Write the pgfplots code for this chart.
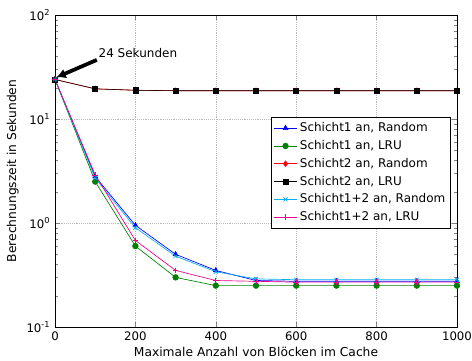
\documentclass[border=0pt]{standalone}
\usepackage{pgfplots}
\pgfplotsset{compat=1.18}
\usetikzlibrary{arrows.meta}
\usepackage{fontspec}
\setmainfont{DejaVu Sans}
\begin{document}
\begin{tikzpicture}
\begin{axis}[
  scale only axis, width=301.5pt, height=234pt,
  ymode=log, xmin=0, xmax=1000, ymin=0.1, ymax=100,
  xtick={0,200,400,600,800,1000},
  ytick={0.1,1,10,100},
  yticklabels={10\textsuperscript{-1},10\textsuperscript{0},10\textsuperscript{1},10\textsuperscript{2}},
  /pgf/number format/assume math mode=true,
  xticklabel style={/pgf/number format/1000 sep={}},
  tick label style={font=\fontsize{8.8}{10}\selectfont},
  label style={font=\fontsize{9.2}{10}\selectfont},
  xlabel={Maximale Anzahl von Blöcken im Cache},
  ylabel={Berechnungszeit in Sekunden},
  xlabel style={yshift=2pt}, ylabel style={yshift=-1pt},
  tick align=inside, major tick length=4pt, minor tick length=2pt,
  grid=major, grid style={densely dotted, gray!55},
  axis line style={black},
  legend style={at={(0.985,0.673)}, anchor=north east, font=\fontsize{9}{10}\selectfont, draw=black, inner sep=2pt, row sep=1pt, cells={anchor=west}},
  legend cell align=left,
  every axis plot/.append style={line width=0.5pt, mark size=2.1pt},
]
\addplot[blue, mark=triangle*, mark options={fill=blue}] coordinates {(0,24) (100,2.8) (200,0.95) (300,0.5) (400,0.35) (500,0.28) (600,0.275) (700,0.275) (800,0.275) (900,0.275) (1000,0.275)};
\addlegendentry{Schicht1 an, Random}
\addplot[green!50!black, mark=*, mark options={fill=green!50!black}] coordinates {(0,24) (100,2.5) (200,0.6) (300,0.3) (400,0.25) (500,0.25) (600,0.25) (700,0.25) (800,0.25) (900,0.25) (1000,0.25)};
\addlegendentry{Schicht1 an, LRU}
\addplot[red, mark=diamond*, mark options={fill=red}] coordinates {(0,24) (100,19.5) (200,18.9) (300,18.7) (400,18.7) (500,18.7) (600,18.7) (700,18.7) (800,18.7) (900,18.7) (1000,18.7)};
\addlegendentry{Schicht2 an, Random}
\addplot[black, mark=square*, mark options={fill=black}, mark size=1.9pt, line width=0.4pt] coordinates {(0,24) (100,19.5) (200,18.9) (300,18.7) (400,18.7) (500,18.7) (600,18.7) (700,18.7) (800,18.7) (900,18.7) (1000,18.7)};
\addlegendentry{Schicht2 an, LRU}
\addplot[cyan, mark=x] coordinates {(0,24) (100,2.7) (200,0.9) (300,0.48) (400,0.34) (500,0.29) (600,0.285) (700,0.285) (800,0.285) (900,0.285) (1000,0.285)};
\addlegendentry{Schicht1+2 an, Random}
\addplot[magenta, mark=+] coordinates {(0,24) (100,2.9) (200,0.68) (300,0.35) (400,0.28) (500,0.275) (600,0.27) (700,0.27) (800,0.27) (900,0.27) (1000,0.27)};
\addlegendentry{Schicht1+2 an, LRU}
\draw[-{Latex[length=7pt,width=7.5pt]}, line width=2.8pt, black, shorten >=0.5pt] (axis cs:104,37) -- (axis cs:2,25);
\node[anchor=west, font=\fontsize{9}{10}\selectfont, inner sep=0pt] at (axis cs:108,43) {24 Sekunden};
\coordinate (SW) at (rel axis cs:0,0);
\coordinate (NE) at (rel axis cs:1,1);
\end{axis}
\pgfresetboundingbox
\path[use as bounding box] ([xshift=-41.25pt,yshift=-25.5pt]SW) rectangle ([xshift=11.25pt,yshift=11.25pt]NE);
\end{tikzpicture}
\end{document}
